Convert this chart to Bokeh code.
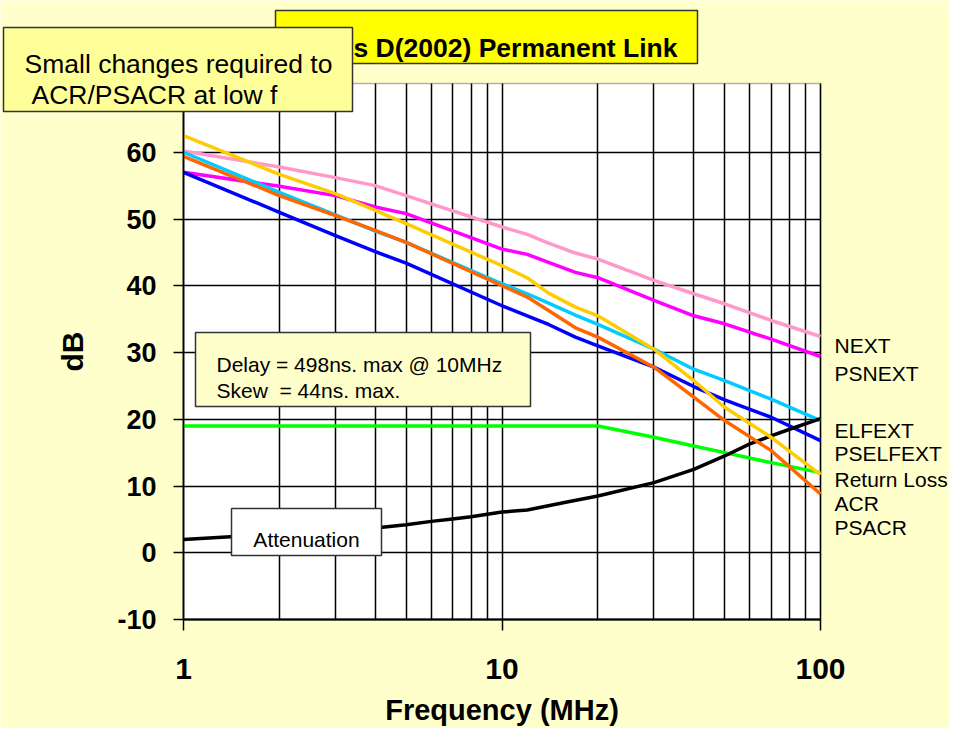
from bokeh.plotting import figure
from bokeh.models import (Range1d, FixedTicker, Label, BoxAnnotation, Grid,
                          LinearAxis, LogAxis, PrintfTickFormatter)
from bokeh.embed import file_html
from bokeh.resources import INLINE

# ---------------- data ----------------
freq = [1, 2, 3, 4, 5, 10, 12, 14, 17, 20, 30, 40, 50, 70, 100]
next_db = [60.2, 57.8, 56.2, 55.0, 53.5, 48.8, 47.7, 46.4, 44.9, 44.0, 40.8, 38.8, 37.3, 34.8, 32.4]
psnext_db = [57.0, 54.9, 53.5, 51.8, 50.8, 45.5, 44.7, 43.5, 42.0, 41.2, 37.8, 35.5, 34.3, 32.0, 29.4]
elfext_db = [60.0, 54.0, 50.6, 48.2, 46.5, 40.3, 38.8, 37.4, 35.6, 34.2, 30.5, 27.5, 25.8, 23.0, 19.8]
pselfext_db = [57.0, 51.0, 47.5, 45.1, 43.4, 37.0, 35.5, 34.2, 32.3, 31.0, 27.8, 24.9, 22.9, 20.3, 16.8]
acr_db = [62.5, 56.7, 53.8, 51.3, 49.3, 43.0, 41.2, 38.9, 36.8, 35.5, 30.5, 25.8, 21.8, 17.3, 11.7]
psacr_db = [59.4, 53.5, 50.5, 48.3, 46.5, 40.0, 38.3, 36.3, 33.7, 32.3, 27.8, 23.3, 19.8, 15.3, 8.8]

rl_freq = [1, 20, 30, 40, 50, 70, 100]
return_loss_db = [19.0, 19.0, 17.3, 16.0, 15.0, 13.5, 12.0]

atten_freq = [1, 2, 4, 5, 6, 7, 8, 10, 12, 16, 20, 30, 40, 50, 60, 70, 80, 100]
atten_db = [2.0, 2.8, 3.7, 4.2, 4.7, 5.05, 5.4, 6.1, 6.4, 7.6, 8.5, 10.5, 12.5, 14.5, 16.3, 17.5, 18.5, 20.1]

x_major_ticks = [1, 10, 100]
x_minor_ticks = [2, 3, 4, 5, 6, 7, 8, 9, 20, 30, 40, 50, 60, 70, 80, 90]
y_ticks = [-10, 0, 10, 20, 30, 40, 50, 60]
x_lim = (1, 100)
y_lim = (-10, 70.3)

series_names = ["NEXT", "PSNEXT", "ELFEXT", "PSELFEXT", "Return Loss", "ACR", "PSACR"]
series_colors = ["#FF99CC", "#FF00FF", "#00CCFF", "#0000FF", "#00FF00", "#FFCC00", "#FF6600"]

title_text = "Class D(2002) Permanent Link"
note_lines = ["Small changes required to", "ACR/PSACR at low f"]
delay_lines = ["Delay = 498ns. max @ 10MHz", "Skew \u00a0= 44ns. max."]
atten_label = "Attenuation"
x_title = "Frequency (MHz)"
y_title = "dB"

FONT = "Liberation Sans"

# ---------------- layout: the plotting frame fills the whole canvas ----------------
W, H = 949, 728
PA_LEFT, PA_RIGHT, PA_TOP, PA_BOTTOM = 183, 820, 83, 619   # plot-area pixels
dec_per_px = 2.0 / (PA_RIGHT - PA_LEFT)
db_per_px = (y_lim[1] - y_lim[0]) / (PA_BOTTOM - PA_TOP)
x_start = 10 ** (-PA_LEFT * dec_per_px)
x_end = 10 ** (2 + (W - PA_RIGHT) * dec_per_px)
y_start = y_lim[0] - (H - PA_BOTTOM) * db_per_px
y_end = y_lim[1] + PA_TOP * db_per_px

p = figure(width=W, height=H, x_axis_type="log",
           x_range=Range1d(x_start, x_end), y_range=Range1d(y_start, y_end),
           x_axis_location=None, y_axis_location=None,
           output_backend="svg", toolbar_location=None,
           min_border_left=0, min_border_right=0,
           min_border_top=0, min_border_bottom=0)
p.grid.visible = False
p.background_fill_color = "#FFFFCC"
p.border_fill_color = "#FFFFCC"
p.outline_line_color = None

# white plot area
plot_area = BoxAnnotation(left=x_lim[0], right=x_lim[1], bottom=y_lim[0], top=y_lim[1],
                          fill_color="white", fill_alpha=1.0,
                          line_color="black", line_width=1.5, level="image")
p.add_layout(plot_area)

# grids restricted to the plot area
xgrid = Grid(dimension=0, ticker=FixedTicker(ticks=x_major_ticks, minor_ticks=x_minor_ticks),
             cross_bounds=y_lim, grid_line_color="black", grid_line_width=1.5,
             minor_grid_line_color="black", minor_grid_line_width=1.5)
ygrid = Grid(dimension=1, ticker=FixedTicker(ticks=y_ticks), cross_bounds=x_lim,
             grid_line_color="black", grid_line_width=1.5)
p.add_layout(xgrid)
p.add_layout(ygrid)

# axes drawn at fixed data locations
xaxis = LogAxis(fixed_location=y_lim[0], bounds=x_lim,
                ticker=FixedTicker(ticks=x_major_ticks),
                formatter=PrintfTickFormatter(format="%d"),
                major_label_text_font=FONT, major_label_text_font_size="30px",
                major_label_text_font_style="bold", major_label_text_color="black",
                major_label_standoff=28, major_tick_out=11, major_tick_in=0,
                major_tick_line_color="black", major_tick_line_width=1.5,
                minor_tick_line_color=None, axis_line_color="black", axis_line_width=2,
                axis_label=x_title, axis_label_text_font=FONT,
                axis_label_text_font_size="29px", axis_label_text_font_style="bold",
                axis_label_text_color="black", axis_label_standoff=12)
p.add_layout(xaxis, "below")

yaxis = LinearAxis(fixed_location=x_lim[0], bounds=y_lim,
                   ticker=FixedTicker(ticks=y_ticks),
                   formatter=PrintfTickFormatter(format="%d"),
                   major_label_text_font=FONT, major_label_text_font_size="27px",
                   major_label_text_font_style="bold", major_label_text_color="black",
                   major_label_standoff=17, major_tick_out=10, major_tick_in=0,
                   major_tick_line_color="black", major_tick_line_width=1.5,
                   minor_tick_line_color=None, axis_line_color="black", axis_line_width=1.5,
                   axis_label=y_title, axis_label_text_font=FONT,
                   axis_label_text_font_size="30px", axis_label_text_font_style="bold",
                   axis_label_text_color="black", axis_label_standoff=25)
p.add_layout(yaxis, "left")

# ---------------- series ----------------
LW = 3.5
p.line(freq, next_db, color=series_colors[0], line_width=LW, line_join="round")
p.line(freq, psnext_db, color=series_colors[1], line_width=LW, line_join="round")
p.line(freq, elfext_db, color=series_colors[2], line_width=LW, line_join="round")
p.line(freq, pselfext_db, color=series_colors[3], line_width=LW, line_join="round")
p.line(rl_freq, return_loss_db, color=series_colors[4], line_width=LW, line_join="round")
p.line(atten_freq, atten_db, color="black", line_width=LW, line_join="round")
p.line(freq, acr_db, color=series_colors[5], line_width=LW, line_join="round")
p.line(freq, psacr_db, color=series_colors[6], line_width=LW, line_join="round")

# ---------------- annotations (screen px, origin at canvas bottom-left) ----------------
def box(left, right, bottom, top, fill):
    b = BoxAnnotation(left=left, right=right, bottom=bottom, top=top,
                      left_units="screen", right_units="screen",
                      bottom_units="screen", top_units="screen",
                      fill_color=fill, fill_alpha=1.0,
                      line_color="#333333", line_width=1.5, line_alpha=1.0)
    p.add_layout(b)

def label(x, y, text, size, style="normal", align="left"):
    l = Label(x=x, y=y, x_units="screen", y_units="screen", text=text,
              text_font=FONT, text_font_size=size, text_font_style=style,
              text_color="black", text_align=align, text_baseline="alphabetic")
    p.add_layout(l)

# title box
box(275, 697, 665, 718, "#FFFF00")
label(677, 681, title_text, "26.5px", "bold", "right")

# note box
box(3, 352, 617, 701, "#FFFF99")
label(24, 665, note_lines[0], "26.5px")
label(31, 634, note_lines[1], "26.5px")

# delay box
box(195, 530, 322, 396, "#FFFFCC")
label(216, 364, delay_lines[0], "21px")
label(216, 338, delay_lines[1], "21px")

# attenuation box
box(231, 381, 173, 220, "white")
label(306, 189, atten_label, "21px", align="center")

# legend texts on the right
legend_y = [383, 355, 298.5, 274.7, 249, 224.7, 200.7]
for name, yy in zip(series_names, legend_y):
    label(834, yy, name, "21px")

open("out.html", "w").write(file_html(p, INLINE))
